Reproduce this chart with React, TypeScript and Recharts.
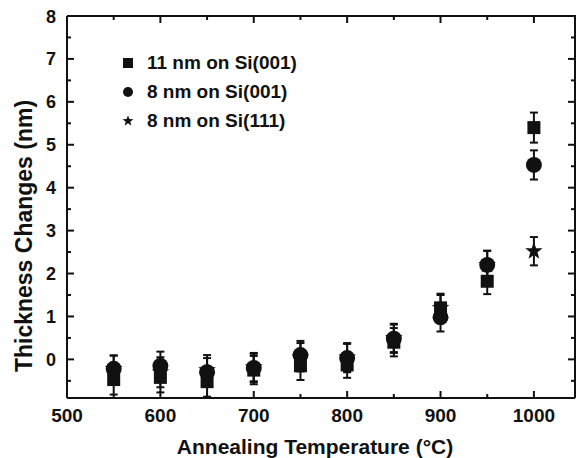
import React from "react";
import { ScatterChart, Scatter, XAxis, YAxis, ErrorBar, Legend, Label } from "recharts";

document.body.style.margin = "0";

const temps = [550, 600, 650, 700, 750, 800, 850, 900, 950, 1000];
const si001_11nm = [-0.47, -0.42, -0.52, -0.25, -0.15, -0.13, 0.4, 1.2, 1.82, 5.4];
const si001_11nmErr = [0.35, 0.35, 0.35, 0.33, 0.33, 0.3, 0.33, 0.33, 0.3, 0.35];
const si001_8nm = [-0.22, -0.15, -0.3, -0.2, 0.1, 0.03, 0.48, 0.98, 2.2, 4.53];
const si001_8nmErr = [0.31, 0.33, 0.33, 0.33, 0.33, 0.33, 0.33, 0.33, 0.33, 0.34];
const si111_8nm = [-0.22, -0.3, -0.25, -0.18, 0.05, 0.05, 0.5, 1.2, 2.2, 2.52];
const si111_8nmErr = [0.31, 0.35, 0.35, 0.33, 0.33, 0.33, 0.33, 0.3, 0.33, 0.33];

const seriesNames = ["11 nm on Si(001)", "8 nm on Si(001)", "8 nm on Si(111)"];
const markerKinds = ["square", "circle", "star"];

const xDomain = [500, 1044];
const yDomain = [-0.9, 8];
const xTicks = [500, 550, 600, 650, 700, 750, 800, 850, 900, 950, 1000];
const yTicks = [-0.5, 0, 0.5, 1, 1.5, 2, 2.5, 3, 3.5, 4, 4.5, 5, 5.5, 6, 6.5, 7, 7.5, 8];

const INK = "#111";
const FONT = "'Liberation Sans', Arial, sans-serif";

// chart geometry (plot box)
const W = 578;
const H = 458;
const PLOT = { left: 67, top: 16, right: 575, bottom: 398 };

const rows = (vals: number[], errs: number[]) =>
  temps.map((t, i) => ({ t, v: vals[i], e: errs[i] }));

function marker(kind: string, cx: number, cy: number, s: number) {
  if (kind === "square") return <rect x={cx - s} y={cy - s} width={2 * s} height={2 * s} fill={INK} />;
  if (kind === "circle") return <circle cx={cx} cy={cy} r={s} fill={INK} />;
  // five point star
  let d = "";
  for (let k = 0; k < 10; k++) {
    const r = k % 2 === 0 ? s * 1.15 : s * 0.47;
    const a = -Math.PI / 2 + (k * Math.PI) / 5;
    d += (k === 0 ? "M" : "L") + (cx + r * Math.cos(a)).toFixed(2) + "," + (cy + r * Math.sin(a)).toFixed(2);
  }
  return <path d={d + "Z"} fill={INK} />;
}

const isMajorX = (v: number) => v % 100 === 0;
const isMajorY = (v: number) => Number.isInteger(v);

const BottomTick = ({ x, y, payload }: any) => {
  const axisY = y - 12;
  const major = isMajorX(payload.value);
  return (
    <g>
      <line x1={x} x2={x} y1={axisY} y2={axisY - (major ? 7 : 4)} stroke={INK} strokeWidth={2} />
      {major && (
        <text x={x} y={axisY + 24} textAnchor="middle" fontSize={19} fontWeight="bold" fontFamily={FONT} fill={INK}>
          {payload.value}
        </text>
      )}
    </g>
  );
};

const LeftTick = ({ x, y, payload }: any) => {
  const major = isMajorY(payload.value);
  return (
    <g>
      <line x1={x} x2={x + (major ? 7 : 4)} y1={y} y2={y} stroke={INK} strokeWidth={2} />
      {major && (
        <text x={x - 11} y={y + 6.5} textAnchor="end" fontSize={18} fontWeight="bold" fontFamily={FONT} fill={INK}>
          {payload.value}
        </text>
      )}
    </g>
  );
};

// top and right sides of the box, ticks pointing inward
const Frame = () => {
  const w = PLOT.right - PLOT.left;
  const h = PLOT.bottom - PLOT.top;
  return (
    <svg width={W} height={H} style={{ position: "absolute", left: 0, top: 0, pointerEvents: "none" }}>
      <polyline
        points={`${PLOT.left},${PLOT.top} ${PLOT.right},${PLOT.top} ${PLOT.right},${PLOT.bottom}`}
        fill="none"
        stroke={INK}
        strokeWidth={2}
      />
      {xTicks.map((t) => {
        const x = PLOT.left + ((t - xDomain[0]) / (xDomain[1] - xDomain[0])) * w;
        return <line key={t} x1={x} x2={x} y1={PLOT.top} y2={PLOT.top + (isMajorX(t) ? 7 : 4)} stroke={INK} strokeWidth={2} />;
      })}
      {yTicks.map((v) => {
        const y = PLOT.bottom - ((v - yDomain[0]) / (yDomain[1] - yDomain[0])) * h;
        return <line key={v} x1={PLOT.right} x2={PLOT.right - (isMajorY(v) ? 7 : 4)} y1={y} y2={y} stroke={INK} strokeWidth={2} />;
      })}
    </svg>
  );
};

const LegendBox = ({ payload }: any) => {
  const items = (payload || []).filter((p: any) => p.type !== "none" && p.value);
  const names = items.length ? items.map((p: any) => p.value) : seriesNames;
  return (
    <div style={{ font: `bold 19px ${FONT}`, color: INK }}>
      {names.map((n: string, i: number) => (
        <div key={n} style={{ display: "flex", alignItems: "center", height: 29 }}>
          <svg width={18} height={18}>{marker(markerKinds[i], 9, 9, 5)}</svg>
          <span style={{ marginLeft: 10 }}>{n}</span>
        </div>
      ))}
    </div>
  );
};

export default function App() {
  const series = [
    rows(si001_11nm, si001_11nmErr),
    rows(si001_8nm, si001_8nmErr),
    rows(si111_8nm, si111_8nmErr),
  ];
  const sizes = [6.5, 8, 8];
  return (
    <div style={{ position: "relative", width: W, height: H }}>
      <ScatterChart
        width={W}
        height={H}
        margin={{ top: PLOT.top, right: W - PLOT.right, bottom: 0, left: 0 }}
      >
        <XAxis
          dataKey="t"
          type="number"
          domain={xDomain}
          allowDataOverflow
          ticks={xTicks}
          interval={0}
          tickSize={0}
          tickMargin={12}
          tickLine={false}
          tick={<BottomTick />}
          axisLine={{ stroke: INK, strokeWidth: 2 }}
          height={H - PLOT.bottom}
        >
          <Label
            content={({ viewBox }: any) => (
              <text
                x={viewBox.x + viewBox.width / 2 - 6}
                y={viewBox.y + 56}
                textAnchor="middle"
                fontSize={21}
                fontWeight="bold"
                fontFamily={FONT}
                fill={INK}
              >
                Annealing Temperature (°C)
              </text>
            )}
          />
        </XAxis>
        <YAxis
          dataKey="v"
          type="number"
          domain={yDomain}
          allowDataOverflow
          ticks={yTicks}
          interval={0}
          tickSize={0}
          tickMargin={0}
          tickLine={false}
          tick={<LeftTick />}
          axisLine={{ stroke: INK, strokeWidth: 2 }}
          width={PLOT.left}
        >
          <Label
            content={({ viewBox }: any) => {
              const cx = 32;
              const cy = viewBox.y + viewBox.height / 2 + 29;
              return (
                <text
                  x={cx}
                  y={cy}
                  transform={`rotate(-90, ${cx}, ${cy})`}
                  textAnchor="middle"
                  fontSize={23}
                  fontWeight="bold"
                  fontFamily={FONT}
                  fill={INK}
                >
                  Thickness Changes (nm)
                </text>
              );
            }}
          />
        </YAxis>
        <Legend
          layout="vertical"
          verticalAlign="middle"
          align="center"
          content={<LegendBox />}
          wrapperStyle={{ left: 119, top: 48, width: "auto" }}
        />
        {series.map((data, i) => (
          <Scatter
            key={seriesNames[i]}
            name={seriesNames[i]}
            data={data}
            fill={INK}
            isAnimationActive={false}
            shape={(p: any) => marker(markerKinds[i], p.cx, p.cy, sizes[i])}
          >
            <ErrorBar dataKey="e" direction="y" width={4} stroke={INK} strokeWidth={2} isAnimationActive={false} />
          </Scatter>
        ))}
      </ScatterChart>
      <Frame />
    </div>
  );
}
